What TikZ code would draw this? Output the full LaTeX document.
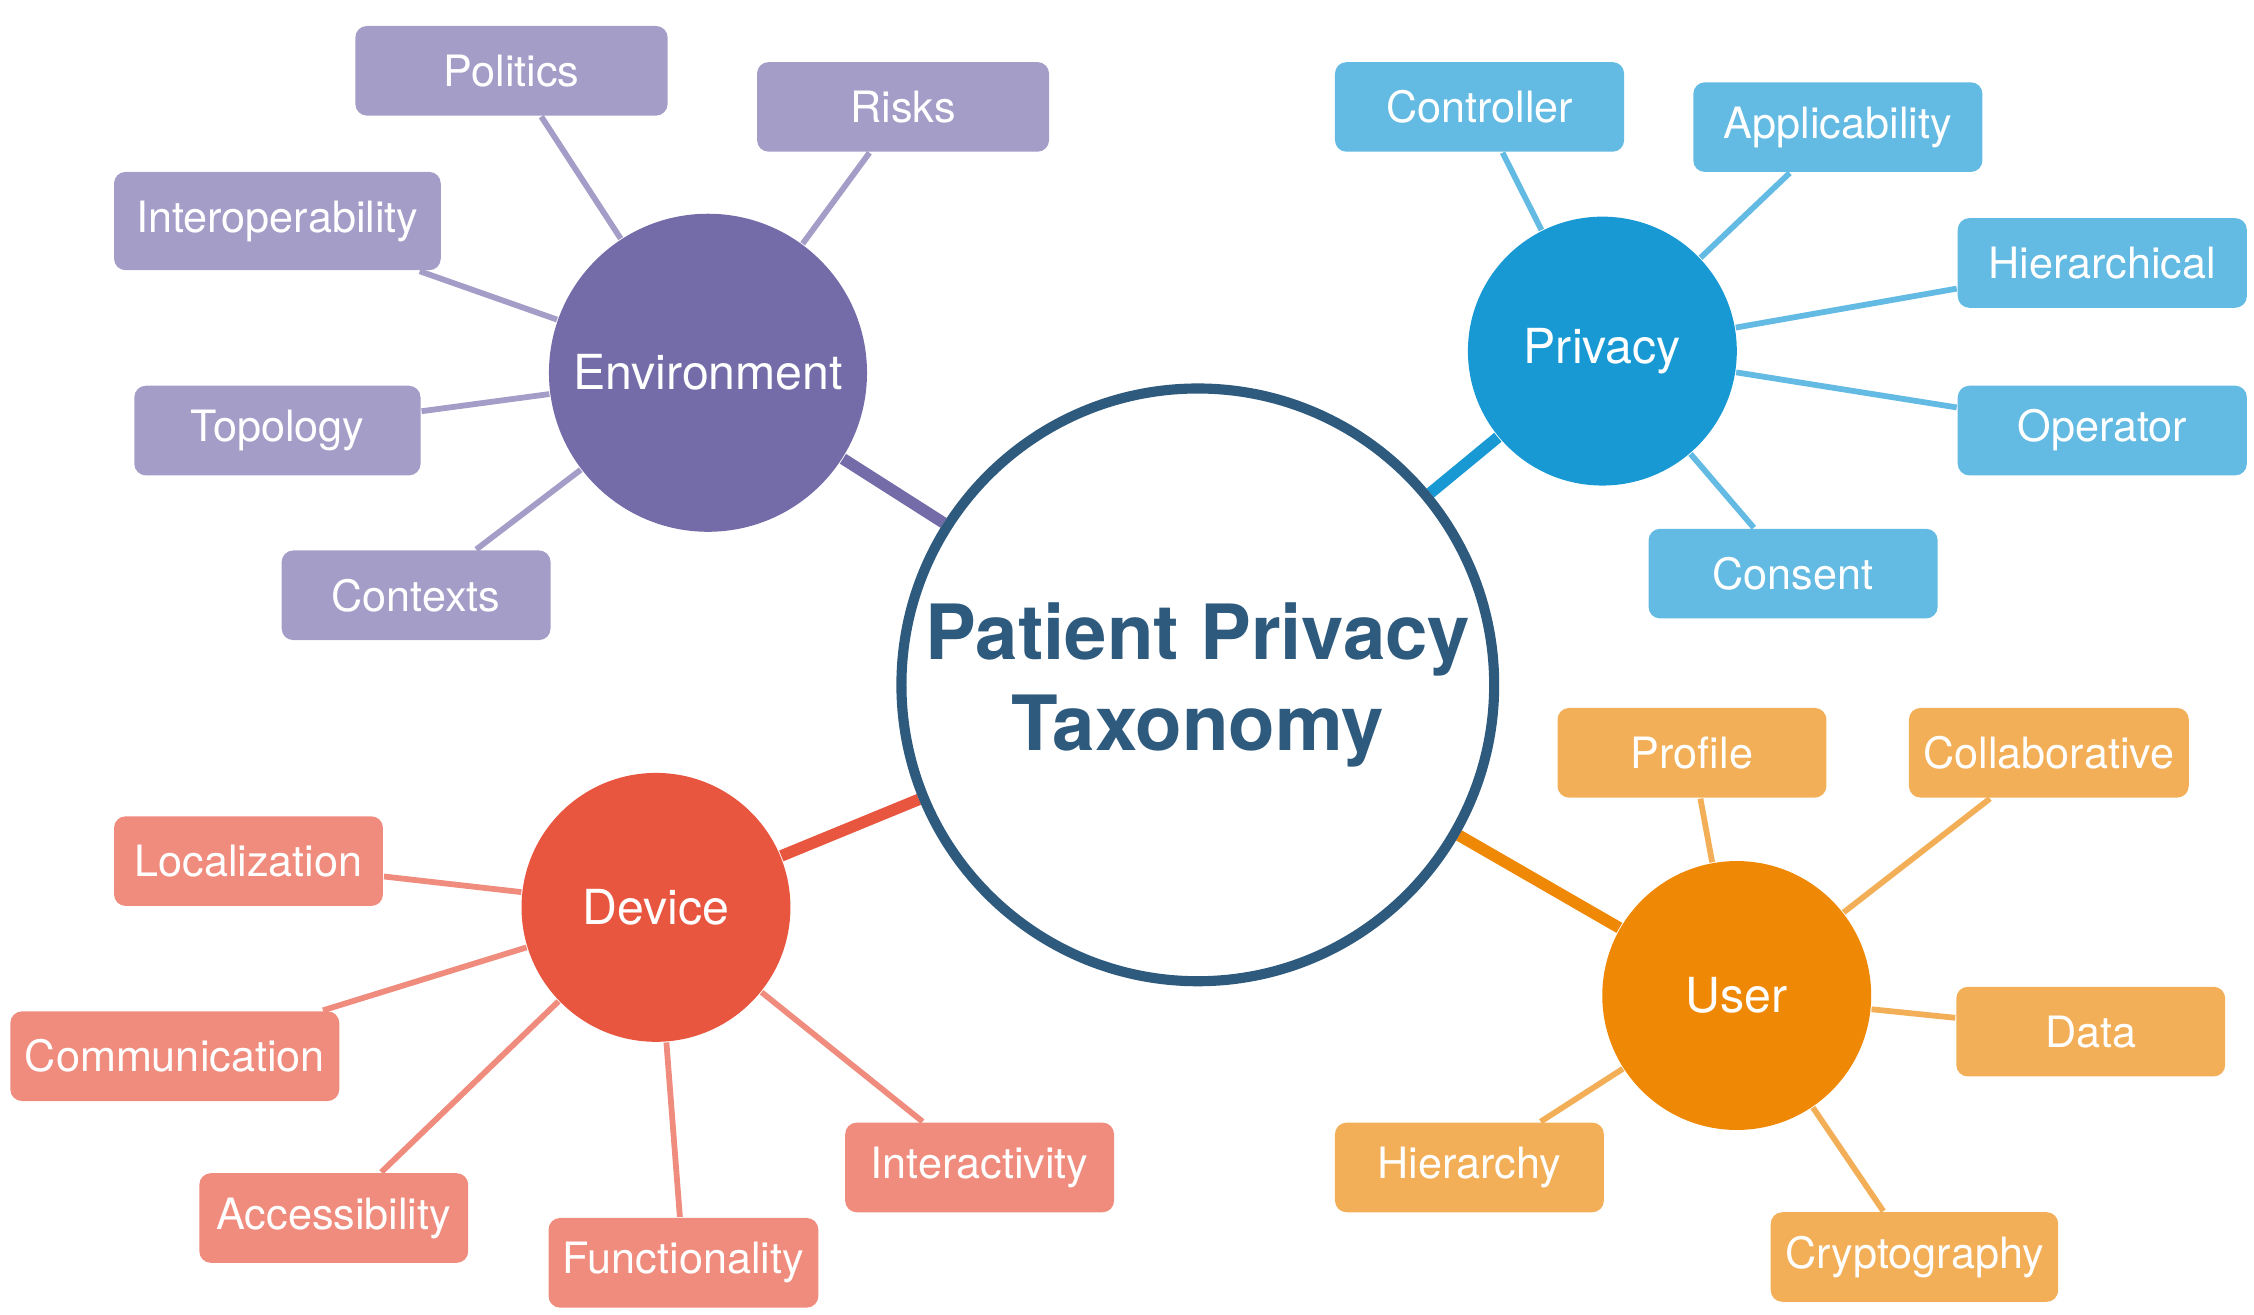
\documentclass[tikz,border=0pt]{standalone}
\usepackage{fontspec}
\setmainfont{TeX Gyre Heros}
\usetikzlibrary{backgrounds}
\definecolor{centre}{HTML}{2E5A7E}
\definecolor{envC}{HTML}{746CA8}\definecolor{envL}{HTML}{A39DC7}
\definecolor{priC}{HTML}{1899D4}\definecolor{priL}{HTML}{63BAE2}
\definecolor{useC}{HTML}{EF8805}\definecolor{useL}{HTML}{F3AF58}
\definecolor{devC}{HTML}{E85640}\definecolor{devL}{HTML}{F08C7E}
\tikzset{
	hub/.style={circle, inner sep=0pt, fill=#1, text=white, font=\fontsize{9.5}{11}\selectfont},
	leaf/.style={rectangle, rounded corners=0.08cm, fill=#1, text=white, minimum height=0.62cm, minimum width=1.86cm, inner xsep=0.1cm, font=\fontsize{8.5}{10}\selectfont},
	link/.style={draw=#1, line width=0.04cm},
	spoke/.style={draw=#1, line width=0.08cm}
}
\begin{document}
\begin{tikzpicture}[x=0.01cm, y=-0.01cm]
	\useasboundingbox (0,0) rectangle (1560,910);
	
	\node[circle, draw=centre, line width=0.07cm, fill=white, inner sep=0pt, minimum size=4.1cm, align=center, text=centre, font=\fontsize{15}{18}\selectfont\bfseries] (root) at (829,474) {Patient Privacy\\Taxonomy};
	
	\node[hub=envC, minimum size=2.2cm] (env) at (490,258) {Environment};
	\node[hub=priC, minimum size=1.86cm] (pri) at (1109,243) {Privacy};
	\node[hub=useC, minimum size=1.86cm] (use) at (1202,689) {User};
	\node[hub=devC, minimum size=1.86cm] (dev) at (454,628) {Device};
	
	\node[leaf=envL, minimum width=2.16cm] (politics) at (354,49) {Politics};
	\node[leaf=envL, minimum width=2.02cm] (risks) at (625,74) {Risks};
	\node[leaf=envL, minimum width=2.26cm, minimum height=0.68cm] (interop) at (192,153) {Interoperability};
	\node[leaf=envL, minimum width=1.98cm] (topology) at (192,298) {Topology};
	\node[leaf=envL] (contexts) at (288,412) {Contexts};
	
	\node[leaf=priL, minimum width=2cm] (controller) at (1024,74) {Controller};
	\node[leaf=priL, minimum width=2cm] (applic) at (1272,88) {Applicability};
	\node[leaf=priL, minimum width=2cm] (hierarchical) at (1455,182) {Hierarchical};
	\node[leaf=priL, minimum width=2cm] (operator) at (1455,298) {Operator};
	\node[leaf=priL, minimum width=2cm] (consent) at (1241,397) {Consent};
	
	\node[leaf=useL] (profile) at (1171,521) {Profile};
	\node[leaf=useL] (collab) at (1418,521) {Collaborative};
	\node[leaf=useL] (data) at (1447,714) {Data};
	\node[leaf=useL] (hierarchy) at (1017,808) {Hierarchy};
	\node[leaf=useL] (crypto) at (1325,870) {Cryptography};
	
	\node[leaf=devL] (local) at (172,596) {Localization};
	\node[leaf=devL, minimum width=2.2cm] (comm) at (121,731) {Communication};
	\node[leaf=devL] (access) at (231,843) {Accessibility};
	\node[leaf=devL] (funct) at (473,874) {Functionality};
	\node[leaf=devL] (interact) at (678,808) {Interactivity};
	
	\begin{pgfonlayer}{background}
		\draw[spoke=envC] (root) -- (env);
		\draw[spoke=priC] (root) -- (pri);
		\draw[spoke=useC] (root) -- (use);
		\draw[spoke=devC] (root) -- (dev);
		\foreach \n in {politics, risks, interop, topology, contexts}
			\draw[link=envL] (env) -- (\n);
		\foreach \n in {controller, applic, hierarchical, operator, consent}
			\draw[link=priL] (pri) -- (\n);
		\foreach \n in {profile, collab, data, hierarchy, crypto}
			\draw[link=useL] (use) -- (\n);
		\foreach \n in {local, comm, access, funct, interact}
			\draw[link=devL] (dev) -- (\n);
	\end{pgfonlayer}
\end{tikzpicture}
\end{document}
